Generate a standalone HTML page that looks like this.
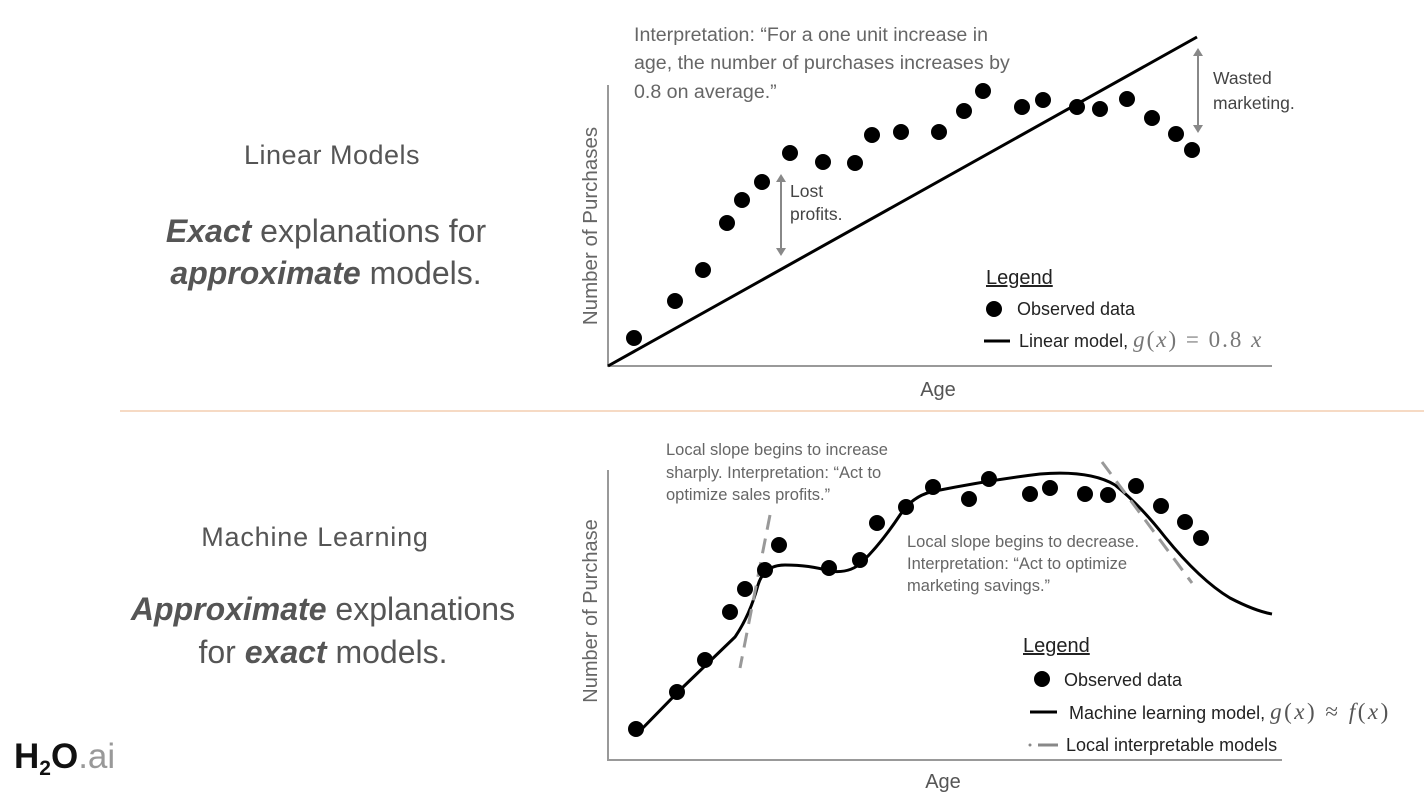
<!DOCTYPE html>
<html><head><meta charset="utf-8"><style>
html,body{margin:0;padding:0;background:#fff;}
svg{display:block;font-family:"Liberation Sans",sans-serif;}
</style></head><body>
<svg width="1424" height="804" viewBox="0 0 1424 804">
<rect width="1424" height="804" fill="#fff"/>
<g fill="#555" text-anchor="middle">
<text x="332" y="164" font-size="27" letter-spacing="0.5">Linear Models</text>
<text x="326" y="242" font-size="32"><tspan font-weight="bold" font-style="italic">Exact</tspan> explanations for</text>
<text x="326" y="284" font-size="32"><tspan font-weight="bold" font-style="italic">approximate</tspan> models.</text>
<text x="315" y="546" font-size="27" letter-spacing="0.8">Machine Learning</text>
<text x="323" y="620" font-size="32"><tspan font-weight="bold" font-style="italic">Approximate</tspan> explanations</text>
<text x="323" y="663" font-size="32">for <tspan font-weight="bold" font-style="italic">exact</tspan> models.</text>
</g>
<text x="14" y="768" font-size="35" font-weight="bold" fill="#111">H<tspan font-size="21" dy="7">2</tspan><tspan dy="-7">O</tspan><tspan font-weight="normal" fill="#999">.ai</tspan></text>
<line x1="120" y1="411" x2="1424" y2="411" stroke="#f3cdb0" stroke-width="1.5"/>

<polyline points="608,85 608,366 1272,366" stroke="#999" stroke-width="2" fill="none"/>
<line x1="608" y1="366" x2="1197" y2="37" stroke="#000" stroke-width="3"/>
<g fill="#000">
<circle cx="634" cy="338" r="8"/><circle cx="675" cy="301" r="8"/><circle cx="703" cy="270" r="8"/><circle cx="727" cy="223" r="8"/><circle cx="742" cy="200" r="8"/><circle cx="762" cy="182" r="8"/><circle cx="790" cy="153" r="8"/><circle cx="823" cy="162" r="8"/><circle cx="855" cy="163" r="8"/><circle cx="872" cy="135" r="8"/><circle cx="901" cy="132" r="8"/><circle cx="939" cy="132" r="8"/><circle cx="964" cy="111" r="8"/><circle cx="983" cy="91" r="8"/><circle cx="1022" cy="107" r="8"/><circle cx="1043" cy="100" r="8"/><circle cx="1077" cy="107" r="8"/><circle cx="1100" cy="109" r="8"/><circle cx="1127" cy="99" r="8"/><circle cx="1152" cy="118" r="8"/><circle cx="1176" cy="134" r="8"/><circle cx="1192" cy="150" r="8"/>
</g>
<g stroke="#888" stroke-width="2" fill="#888">
<line x1="781" y1="180" x2="781" y2="250"/><polygon points="776,182 786,182 781,174" stroke="none"/><polygon points="776,248 786,248 781,256" stroke="none"/>
<line x1="1198" y1="54" x2="1198" y2="127"/><polygon points="1193,56 1203,56 1198,48" stroke="none"/><polygon points="1193,125 1203,125 1198,133" stroke="none"/>
</g>
<g fill="#666" font-size="19.6">
<text x="634" y="41">Interpretation: “For a one unit increase in</text>
<text x="634" y="69">age, the number of purchases increases by</text>
<text x="634" y="98">0.8 on average.”</text>
</g>
<g fill="#444" font-size="17.5">
<text x="790" y="197">Lost</text><text x="790" y="220">profits.</text>
<text x="1213" y="84">Wasted</text><text x="1213" y="109">marketing.</text>
</g>
<g fill="#222" font-size="18">
<text x="986" y="284" font-size="20" text-decoration="underline">Legend</text>
<circle cx="994" cy="309" r="8" fill="#000"/>
<text x="1017" y="315">Observed data</text>
<line x1="984" y1="341" x2="1010" y2="341" stroke="#000" stroke-width="3"/>
<text x="1019" y="347">Linear model, <tspan font-family="Liberation Serif,serif" font-size="23" fill="#777" letter-spacing="2"><tspan font-style="italic">g</tspan>(<tspan font-style="italic">x</tspan>) = 0.8 <tspan font-style="italic">x</tspan></tspan></text>
</g>
<text x="938" y="396" font-size="20" fill="#555" text-anchor="middle">Age</text>
<text transform="translate(597,226) rotate(-90)" font-size="20.5" fill="#666" text-anchor="middle">Number of Purchases</text>

<polyline points="608,470 608,760 1282,760" stroke="#999" stroke-width="2" fill="none"/>
<path d="M636,735 L680,690 L735,637 Q750,615 758,585 Q764,565 785,565 Q810,565 829,571 Q850,574 862,562 Q880,545 900,515 Q913,495 935,491 Q990,480 1040,474 Q1090,470 1115,485 Q1140,505 1165,537 Q1200,580 1230,598 Q1255,611 1272,614" stroke="#000" stroke-width="3" fill="none"/>
<g stroke="#999" stroke-width="3" stroke-dasharray="15,9">
<line x1="770" y1="515" x2="740" y2="668"/>
<line x1="1102" y1="462" x2="1192" y2="583"/>
</g>
<g fill="#000">
<circle cx="636" cy="729" r="8"/><circle cx="677" cy="692" r="8"/><circle cx="705" cy="660" r="8"/><circle cx="730" cy="612" r="8"/><circle cx="745" cy="589" r="8"/><circle cx="765" cy="570" r="8"/><circle cx="779" cy="545" r="8"/><circle cx="829" cy="568" r="8"/><circle cx="860" cy="560" r="8"/><circle cx="877" cy="523" r="8"/><circle cx="906" cy="507" r="8"/><circle cx="933" cy="487" r="8"/><circle cx="969" cy="499" r="8"/><circle cx="989" cy="479" r="8"/><circle cx="1030" cy="494" r="8"/><circle cx="1050" cy="488" r="8"/><circle cx="1085" cy="494" r="8"/><circle cx="1108" cy="495" r="8"/><circle cx="1136" cy="486" r="8"/><circle cx="1161" cy="506" r="8"/><circle cx="1185" cy="522" r="8"/><circle cx="1201" cy="538" r="8"/>
</g>
<g fill="#666" font-size="16.5">
<text x="666" y="455">Local slope begins to increase</text>
<text x="666" y="478">sharply. Interpretation: “Act to</text>
<text x="666" y="500">optimize sales profits.”</text>
<text x="907" y="547">Local slope begins to decrease.</text>
<text x="907" y="569">Interpretation: “Act to optimize</text>
<text x="907" y="591">marketing savings.”</text>
</g>
<g fill="#222" font-size="18">
<text x="1023" y="652" font-size="20" text-decoration="underline">Legend</text>
<circle cx="1042" cy="679" r="8" fill="#000"/>
<text x="1064" y="686">Observed data</text>
<line x1="1030" y1="712" x2="1057" y2="712" stroke="#000" stroke-width="3"/>
<text x="1069" y="719">Machine learning model, <tspan font-family="Liberation Serif,serif" font-size="23" fill="#555" letter-spacing="2.5"><tspan font-style="italic">g</tspan>(<tspan font-style="italic">x</tspan>)  ≈ <tspan font-style="italic">f</tspan>(<tspan font-style="italic">x</tspan>)</tspan></text>
<circle cx="1030" cy="745" r="1.5" fill="#888"/>
<line x1="1038" y1="745" x2="1058" y2="745" stroke="#888" stroke-width="3"/>
<text x="1066" y="751">Local interpretable models</text>
</g>
<text x="943" y="788" font-size="20" fill="#555" text-anchor="middle">Age</text>
<text transform="translate(597,611) rotate(-90)" font-size="20" fill="#666" text-anchor="middle">Number of Purchase</text>
</svg>
</body></html>
